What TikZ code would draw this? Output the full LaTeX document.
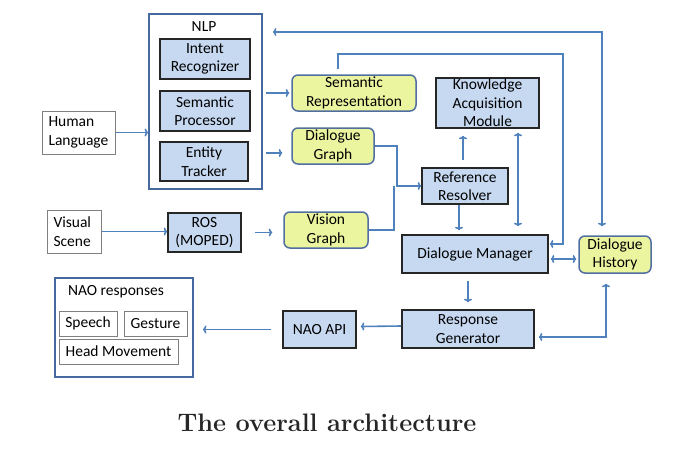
\documentclass[tikz,border=0pt]{standalone}
\usepackage{fontspec}
\newfontfamily\boxfont{Carlito}
\usepackage{tikz}
\usetikzlibrary{arrows,arrows.meta}
\usetikzlibrary{calc}
\definecolor{linkblue}{RGB}{79,129,189}
\definecolor{groupblue}{RGB}{70,105,160}
\definecolor{boxblue}{RGB}{198,217,241}
\definecolor{boxyellow}{RGB}{235,245,160}
\definecolor{edgeyellow}{RGB}{80,110,160}

\begin{document}
\begin{tikzpicture}[x=1pt, y=-1pt, >={To[length=3.5pt,width=8pt]},
    txt/.style={font=\boxfont\fontsize{15.5}{18.5}\selectfont, text=black, align=center, inner sep=0pt},
    blk/.style={txt, draw=black!85, line width=1.6pt, fill=boxblue},
    ylw/.style={txt, draw=edgeyellow, line width=1.5pt, fill=boxyellow, rounded corners=6pt},
    wht/.style={txt, draw=gray, line width=1pt, fill=white},
    grp/.style={draw=groupblue, line width=1.8pt, inner sep=0pt},
    link/.style={draw=linkblue, line width=1.6pt},
    arr/.style={link, ->},
    arr2/.style={link, <->}]
    % Frame
    \useasboundingbox (0,0) rectangle (684,452);
    % NLP group
    \node[grp, minimum width=113, minimum height=175] (nlp) at (205.5,101.5) {};
    \node[txt] (nlptitle) at (204,27) {NLP};
    \node[blk, minimum width=90, minimum height=40] (intent) at (205,59) {Intent\\Recognizer};
    \node[blk, minimum width=90, minimum height=40] (semproc) at (205,111) {Semantic\\Processor};
    \node[blk, minimum width=88, minimum height=39] (entity) at (204,161.5) {Entity\\Tracker};
    % Inputs
    \node[wht, text width=60, inner xsep=6.5, align=left, minimum height=43] (human) at (78.5,132.5) {Human\\Language};
    \node[wht, text width=41, inner xsep=6.5, align=left, minimum height=43] (visual) at (74,231.5) {Visual\\Scene};
    \node[blk, minimum width=73, minimum height=39] (ros) at (204.5,232.5) {ROS\\(MOPED)};
    % Graphs
    \node[ylw, minimum width=124, minimum height=36] (semrep) at (354,93) {Semantic\\Representation};
    \node[ylw, minimum width=82, minimum height=36] (dgraph) at (333,146) {Dialogue\\Graph};
    \node[ylw, minimum width=84, minimum height=36] (vgraph) at (326,230) {Vision\\Graph};
    % Dialogue modules
    \node[blk, minimum width=103, minimum height=50] (kam) at (487.5,103) {Knowledge\\Acquisition\\Module};
    \node[blk, minimum width=86, minimum height=36] (rr) at (465,186) {Reference\\Resolver};
    \node[blk, minimum width=146, minimum height=38] (dm) at (475,254) {Dialogue Manager};
    \node[ylw, minimum width=72, minimum height=37] (dh) at (615,254.5) {Dialogue\\History};
    \node[blk, minimum width=132, minimum height=38] (rg) at (468,329) {Response\\Generator};
    \node[blk, minimum width=73, minimum height=37] (naoapi) at (319.5,329.5) {NAO API};
    % NAO responses group
    \node[grp, minimum width=138, minimum height=99] (naoresp) at (124,327.5) {};
    \node[txt] (naotitle) at (116,292) {NAO responses};
    \node[wht, minimum width=58, minimum height=25] (speech) at (88,323.5) {Speech};
    \node[wht, minimum width=63, minimum height=25] (gesture) at (155.5,323.5) {Gesture};
    \node[wht, minimum width=119, minimum height=25] (head) at (118.5,351.5) {Head Movement};
    % Title
    \node[font=\fontsize{25.3}{29}\selectfont\bfseries, text=black!85] (title) at (327,423) {The overall architecture};
    % Connectors
    \draw[arr] (human.east) -- (human.east -| nlp.west);
    \draw[arr] ([xshift=3]nlp.east |- semrep.west) -- ([xshift=-2]semrep.west);
    \draw[arr] ([xshift=3,yshift=-7]nlp.east |- dgraph.west) -- ([xshift=-9,yshift=-7]dgraph.west);
    \draw[arr2] ([xshift=-13,yshift=9]dh.north) |- ([xshift=10]nlp.east |- 0,32);
    \draw[arr] ([xshift=-16,yshift=5]semrep.north) |- (563,54) |- ([xshift=1]dm.east |- 0,244);
    \draw[arr] (dgraph.east) -| ([xshift=-24]rr.west) -- (rr.west);
    \draw[link] (vgraph.east) -| ([xshift=-27]rr.west);
    \draw[arr] ([xshift=-2,yshift=7]rr.north) -- ([xshift=-2,yshift=-7]rr.north |- kam.south);
    \draw[arr2] ([xshift=30.5,yshift=-4]kam.south) -- ([xshift=30.5,yshift=8]kam.south |- dm.north);
    \draw[arr] ([xshift=-6]rr.south) -- ([xshift=-6,yshift=4]rr.south |- dm.north);
    \draw[arr2] ([xshift=2,yshift=-5]dm.east) -- ([xshift=-2,yshift=-5]dm.east -| dh.west);
    \draw[arr] ([xshift=-7,yshift=-7]dm.south) -- ([xshift=-7,yshift=7]dm.south |- rg.north);
    \draw[arr2] ([xshift=-9,yshift=-10]dh.south) |- ([xshift=4,yshift=-8]rg.east);
    \draw[arr] ([yshift=3]rg.west) -- ([xshift=4,yshift=3]naoapi.east);
    \draw[arr] ([xshift=-11]naoapi.west) -- ([xshift=9]naoapi.west -| naoresp.east);
    \draw[arr] (visual.east) -- (visual.east -| ros.west);
    \draw[arr] ([xshift=13]ros.east) -- ([xshift=-11]ros.east -| vgraph.west);
\end{tikzpicture}
\end{document}
